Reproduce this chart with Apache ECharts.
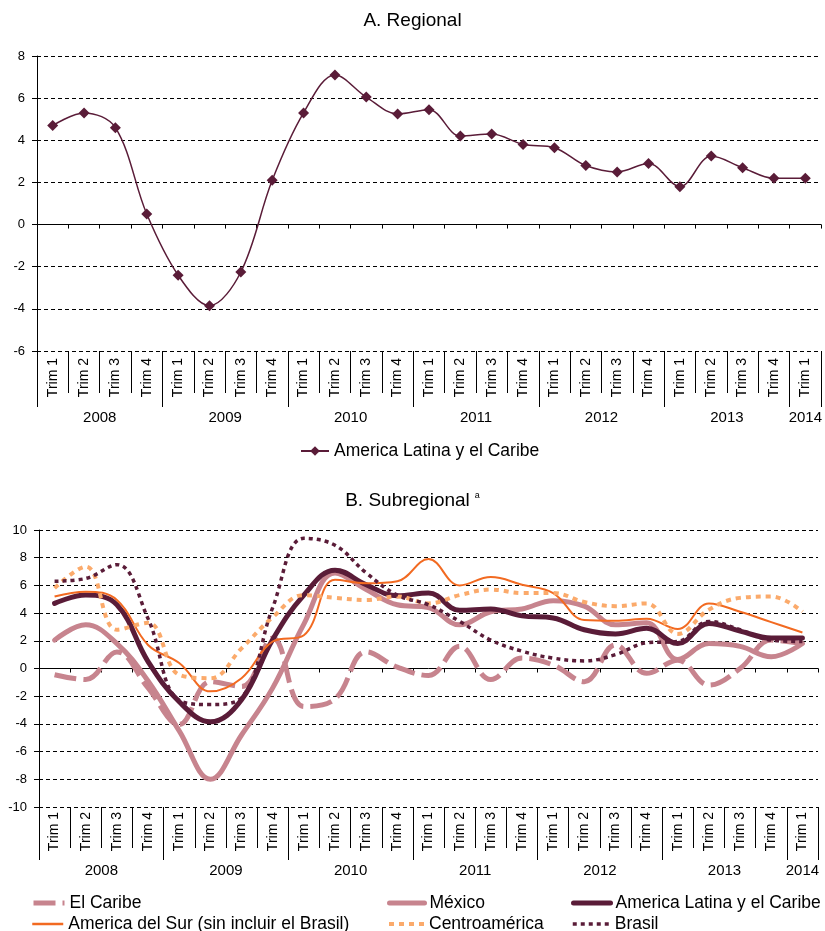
<!DOCTYPE html>
<html>
<head>
<meta charset="utf-8">
<title>Crecimiento del PIB trimestral</title>
<script src="https://cdn.jsdelivr.net/npm/echarts@6/dist/echarts.min.js"></script>
<style>
  html, body { margin: 0; padding: 0; background: #fff; }
  #chart { width: 825px; height: 931px; }
</style>
</head>
<body>
<div id="chart"></div>
<script>
// trimestres 2008 T1 .. 2014 T1
const quarters = [
  "Trim 1", "Trim 2", "Trim 3", "Trim 4",
  "Trim 1", "Trim 2", "Trim 3", "Trim 4",
  "Trim 1", "Trim 2", "Trim 3", "Trim 4",
  "Trim 1", "Trim 2", "Trim 3", "Trim 4",
  "Trim 1", "Trim 2", "Trim 3", "Trim 4",
  "Trim 1", "Trim 2", "Trim 3", "Trim 4",
  "Trim 1"
];
const years = ["2008", "2009", "2010", "2011", "2012", "2013", "2014"];
const quartersPerYear = [4, 4, 4, 4, 4, 4, 1];

const ticksRegional = [-6, -4, -2, 0, 2, 4, 6, 8];
const ticksSubregional = [-10, -8, -6, -4, -2, 0, 2, 4, 6, 8, 10];

// A. Regional
const alc = [4.7, 5.3, 4.6, 0.5, -2.4, -3.85, -2.25, 2.1, 5.3, 7.1, 6.05, 5.25,
  5.45, 4.2, 4.3, 3.8, 3.65, 2.8, 2.5, 2.9, 1.8, 3.25, 2.7, 2.2, 2.2];

// B. Subregional
const caribe = [-0.45, -0.8, 1.2, -1.4, -4.05, -0.95, -1.3, 2.2, -2.75, -2.2, 1.2, 0.1,
  -0.5, 1.6, -0.8, 0.75, 0.25, -0.95, 1.7, -0.35, 0.6, -1.2, 0.0, 2.05, 1.8];
const mexico = [2.05, 3.15, 1.8, -0.9, -4.5, -8.0, -4.8, -1.4, 3.2, 6.9, 5.7, 4.6,
  4.4, 3.15, 4.1, 4.3, 4.9, 4.5, 3.15, 3.3, 0.65, 1.8, 1.6, 0.85, 1.8];
const surSinBrasil = [5.2, 5.55, 4.95, 1.7, 0.4, -1.65, -0.7, 1.95, 2.4, 6.4, 6.15, 6.3,
  7.9, 6.0, 6.6, 6.05, 5.45, 3.5, 3.45, 3.6, 2.85, 4.7, 4.1, 3.35, 2.6];
const centroamerica = [5.8, 7.35, 2.8, 3.3, -0.45, -0.7, 1.45, 3.7, 5.3, 5.1, 4.95, 5.2,
  4.7, 5.3, 5.7, 5.45, 5.45, 4.8, 4.5, 4.7, 2.5, 4.25, 5.1, 5.2, 4.1];
const brasil = [6.3, 6.5, 7.5, 3.6, -2.3, -2.6, -2.1, 4.4, 9.4, 8.9, 6.9, 5.3,
  4.6, 3.4, 2.05, 1.25, 0.75, 0.55, 1.0, 1.85, 1.95, 3.4, 2.8, 2.05, 1.95];

const FONT = "Liberation Sans, Arial, sans-serif";
const maroon = "#5a1c38";
const pink = "#c7848e";

// eje de años: 2 puntos por trimestre, etiqueta en el centro de cada año
const yearData = [];
const yearLabelAt = {};
const yearBorderAt = {};
for (let i = 0; i <= quarters.length * 2; i++) yearData.push("");
let start = 0;
years.forEach(function (y, k) {
  const c = quartersPerYear[k];
  yearData[2 * start + c] = y;
  yearLabelAt[2 * start + c] = true;
  yearBorderAt[2 * start] = true;
  yearBorderAt[2 * (start + c)] = true;
  start += c;
});

function axesFor(grid, tickLen, labelMargin, yearTick, yearMargin) {
  return [
    { // línea en cero con marcas pequeñas
      type: "category", gridIndex: grid, data: quarters, boundaryGap: true,
      axisLine: { onZero: true, lineStyle: { color: "#000", width: 1 } },
      axisTick: { show: true, length: 4, interval: 0, lineStyle: { color: "#000" } },
      axisLabel: { show: false }
    },
    { // trimestres
      type: "category", gridIndex: grid, data: quarters, boundaryGap: true,
      position: "bottom",
      axisLine: { show: false, onZero: false },
      axisTick: { show: true, length: tickLen, interval: 0, lineStyle: { color: "#000" } },
      axisLabel: { interval: 0, rotate: 90, margin: labelMargin, fontSize: 14,
        fontFamily: FONT, color: "#000" }
    },
    { // años
      type: "category", gridIndex: grid, data: yearData, boundaryGap: false,
      position: "bottom",
      axisLine: { show: false, onZero: false },
      axisTick: { show: true, length: yearTick, lineStyle: { color: "#000" },
        interval: function (i) { return !!yearBorderAt[i]; } },
      axisLabel: { margin: yearMargin, fontSize: 15, fontFamily: FONT, color: "#000",
        interval: function (i) { return !!yearLabelAt[i]; } }
    }
  ];
}

function yAxisFor(grid, ticks) {
  return {
    type: "value", gridIndex: grid,
    min: ticks[0], max: ticks[ticks.length - 1], interval: 2,
    axisLine: { show: true, lineStyle: { color: "#000" } },
    axisTick: { show: true, length: 5, lineStyle: { color: "#000" } },
    axisLabel: { margin: 12, fontSize: 13, fontFamily: FONT, color: "#000" },
    splitLine: { show: true, lineStyle: { color: "#000", type: [4, 3], width: 1 } }
  };
}

// una leyenda por entrada para colocarlas en 3 columnas x 2 filas
function legendItem(name, left, top, w, lw) {
  return {
    left: left, top: top, itemWidth: w, itemHeight: 14, data: [name],
    itemStyle: { opacity: 0 },
    lineStyle: { width: lw },
    textStyle: { fontSize: 17.5, fontFamily: FONT, color: "#000" }
  };
}

const chart = echarts.init(document.getElementById("chart"), null, { renderer: "canvas" });

chart.setOption({
  animation: false,
  backgroundColor: "#fff",
  title: [
    { text: "A. Regional", left: "center", top: 6,
      textStyle: { fontSize: 19, fontWeight: "normal", fontFamily: FONT, color: "#000" } },
    { text: "{t|B. Subregional} {s|a}", left: "center", top: 486,
      textStyle: { fontWeight: "normal", rich: {
        t: { fontSize: 19, fontWeight: "normal", fontFamily: FONT, color: "#000" },
        s: { fontSize: 9, fontWeight: "normal", fontFamily: FONT, color: "#000",
          verticalAlign: "top", padding: [0, 0, 8, 0] }
      } } }
  ],
  grid: [
    { left: 37, right: 2, top: 56, height: 295 },
    { left: 39, right: 7, top: 530, height: 277 }
  ],
  xAxis: axesFor(0, 42, 7, 56, 59).concat(axesFor(1, 41, 5, 53, 56)),
  yAxis: [yAxisFor(0, ticksRegional), yAxisFor(1, ticksSubregional)],
  legend: [
    { left: 295, top: 437, itemWidth: 28, itemHeight: 12, data: ["America Latina y el Caribe"],
      textStyle: { fontSize: 17.5, fontFamily: FONT, color: "#000" } },
    legendItem("El Caribe", 26, 889, 31, 5),
    legendItem("America del Sur (sin incluir el Brasil)", 26, 910, 31, 2.5),
    legendItem("México", 382, 889, 35, 5),
    legendItem("Centroamérica", 382, 910, 35, 4),
    legendItem("America Latina y el Caribe ", 566, 889, 37, 5),
    legendItem("Brasil", 566, 910, 37, 3.5)
  ],
  series: [
    {
      name: "America Latina y el Caribe", type: "line", xAxisIndex: 0, yAxisIndex: 0,
      data: alc, smooth: 0.35, symbol: "diamond", symbolSize: 11,
      itemStyle: { color: maroon }, lineStyle: { color: maroon, width: 1.5 }
    },
    {
      name: "El Caribe", type: "line", xAxisIndex: 3, yAxisIndex: 1,
      data: caribe, smooth: 0.4, showSymbol: false, symbol: "none",
      itemStyle: { color: pink }, lineStyle: { color: pink, width: 5, type: [22, 7] }
    },
    {
      name: "México", type: "line", xAxisIndex: 3, yAxisIndex: 1,
      data: mexico, smooth: 0.4, showSymbol: false, symbol: "none",
      itemStyle: { color: pink }, lineStyle: { color: pink, width: 5, cap: "round" }
    },
    {
      // el espacio final separa el nombre del de la serie del panel A
      name: "America Latina y el Caribe ", type: "line", xAxisIndex: 3, yAxisIndex: 1,
      data: alc, smooth: 0.4, showSymbol: false, symbol: "none",
      itemStyle: { color: maroon }, lineStyle: { color: maroon, width: 5, cap: "round" }
    },
    {
      name: "America del Sur (sin incluir el Brasil)", type: "line", xAxisIndex: 3, yAxisIndex: 1,
      data: surSinBrasil, smooth: 0.4, showSymbol: false, symbol: "none",
      itemStyle: { color: "#f26a21" }, lineStyle: { color: "#f26a21", width: 2 }
    },
    {
      name: "Centroamérica", type: "line", xAxisIndex: 3, yAxisIndex: 1,
      data: centroamerica, smooth: 0.4, showSymbol: false, symbol: "none",
      itemStyle: { color: "#fbaa6b" }, lineStyle: { color: "#fbaa6b", width: 4, type: [5, 5] }
    },
    {
      name: "Brasil", type: "line", xAxisIndex: 3, yAxisIndex: 1,
      data: brasil, smooth: 0.4, showSymbol: false, symbol: "none",
      itemStyle: { color: maroon }, lineStyle: { color: maroon, width: 3.5, type: [4, 4] }
    }
  ]
});
</script>
</body>
</html>
